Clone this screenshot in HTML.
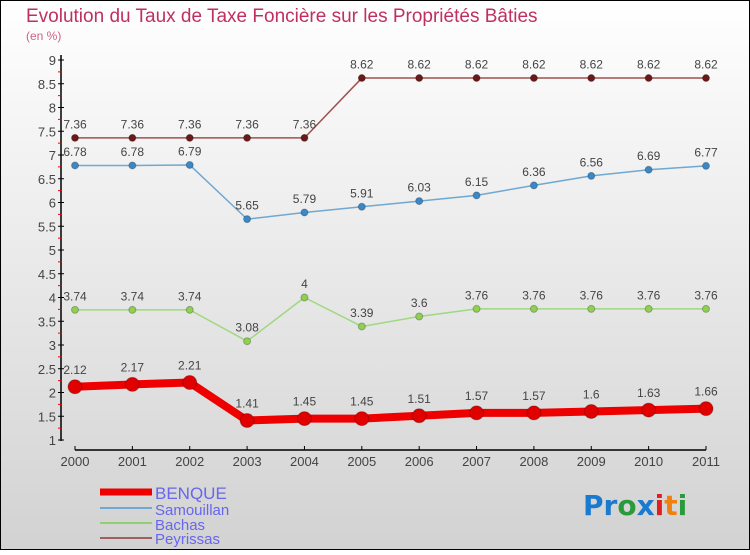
<!DOCTYPE html>
<html><head><meta charset="utf-8"><style>
html,body{margin:0;padding:0}
body{width:750px;height:550px;overflow:hidden;font-family:"Liberation Sans",sans-serif}
</style></head><body>
<svg id="chart" width="750" height="550" xmlns="http://www.w3.org/2000/svg" font-family="Liberation Sans, sans-serif">
<defs><linearGradient id="bg" x1="0" y1="0" x2="0" y2="1"><stop offset="0" stop-color="#ffffff"/><stop offset="1" stop-color="#d2d2d2"/></linearGradient></defs>
<rect x="0.5" y="0.5" width="749" height="549" fill="url(#bg)" stroke="#000"/>
<text x="26" y="22" font-size="19" fill="#c0305f">Evolution du Taux de Taxe Foncière sur les Propriétés Bâties</text>
<text x="26" y="40" font-size="12" fill="#d0608a">(en %)</text>
<g id="axes"></g>
<g id="series"></g>
<g>
<line x1="100" y1="492" x2="152" y2="492" stroke="#ee0000" stroke-width="7"/>
<text x="155" y="499" font-size="17" fill="#6666ee">BENQUE</text>
<line x1="100" y1="508" x2="152" y2="508" stroke="#6fa8d0" stroke-width="2"/>
<text x="155" y="515" font-size="15" fill="#6666ee">Samouillan</text>
<line x1="100" y1="523" x2="152" y2="523" stroke="#90d070" stroke-width="2"/>
<text x="155" y="530" font-size="15" fill="#6666ee">Bachas</text>
<line x1="100" y1="538" x2="152" y2="538" stroke="#a06060" stroke-width="2"/>
<text x="155" y="544" font-size="15" fill="#6666ee">Peyrissas</text>
</g>
<text x="583" y="515" font-size="28" font-weight="bold" font-family="DejaVu Sans, sans-serif"><tspan fill="#1a7ad0">Pr</tspan><tspan fill="#2a9a3a">o</tspan><tspan fill="#1a7ad0">x</tspan><tspan fill="#e02020">i</tspan><tspan fill="#f08010">t</tspan><tspan fill="#2a9a3a">i</tspan></text>
</svg>
<script>
const years=[2000,2001,2002,2003,2004,2005,2006,2007,2008,2009,2010,2011];
const yTicks=[1,1.5,2,2.5,3,3.5,4,4.5,5,5.5,6,6.5,7,7.5,8,8.5,9];
const benque=[2.12,2.17,2.21,1.41,1.45,1.45,1.51,1.57,1.57,1.6,1.63,1.66];
const samouillan=[6.78,6.78,6.79,5.65,5.79,5.91,6.03,6.15,6.36,6.56,6.69,6.77];
const bachas=[3.74,3.74,3.74,3.08,4,3.39,3.6,3.76,3.76,3.76,3.76,3.76];
const peyrissas=[7.36,7.36,7.36,7.36,7.36,8.62,8.62,8.62,8.62,8.62,8.62,8.62];
const NS="http://www.w3.org/2000/svg";
function xs(i){return 75+i*(706-75)/(years.length-1);}
function ys(v){return 440-(v-1)*(440-60)/8;}
function mk(tag,attrs,parent){const e=document.createElementNS(NS,tag);for(const k in attrs)e.setAttribute(k,attrs[k]);parent.appendChild(e);return e;}
const ax=document.getElementById('axes');
const ya=mk('line',{x1:61,y1:55,x2:61,y2:441,stroke:'#000','stroke-width':1.5},ax);


yTicks.forEach(v=>{
  const y=ys(v);
  const t=mk('line',{x1:58,y1:y,x2:64,y2:y,stroke:'#000'},ax);
  
  
  const l=mk('text',{x:56,y:y+5,'text-anchor':'end','font-size':13,fill:'#444'},ax);
  l.textContent=String(v);
  
  
  if(v<9){const m=mk('line',{x1:58,y1:ys(v+0.25),x2:62,y2:ys(v+0.25),stroke:'#e00'},ax);
  
  }
});
const xa=mk('line',{x1:75,y1:450,x2:706,y2:450,stroke:'#000','stroke-width':1.5},ax);


years.forEach((yr,i)=>{
  const x=xs(i);
  const t=mk('line',{x1:x,y1:446,x2:x,y2:450,stroke:'#000'},ax);
  
  
  const l=mk('text',{x:x,y:466,'text-anchor':'middle','font-size':13,fill:'#444'},ax);
  l.textContent=String(yr);
  
  
});
const sg=document.getElementById('series');
function draw(name,data,color,dot,w,r){
  const g=mk('g',{},sg);
  
  
  const p=mk('polyline',{points:data.map((v,i)=>xs(i)+','+ys(v)).join(' '),fill:'none',stroke:color,'stroke-width':w,'stroke-linejoin':'round'},g);
  
  
  data.forEach((v,i)=>{
    const c=mk('circle',{cx:xs(i),cy:ys(v),r:r,fill:dot,stroke:'rgba(0,0,0,0.25)'},g);
    
    
    const t=mk('text',{x:xs(i),y:ys(v)-(r+6),'text-anchor':'middle','font-size':12,fill:'#444'},g);
    t.textContent=String(v);
    
    
  });
}
draw('peyrissas',peyrissas,'#a05050','#6a1818',1.5,3.5);
draw('samouillan',samouillan,'#6fa8d0','#3a88c8',1.5,3.5);
draw('bachas',bachas,'#a0d880','#90d050',1.5,3.5);
draw('benque',benque,'#ee0000','#e00000',8,7);
</script>
</body></html>
